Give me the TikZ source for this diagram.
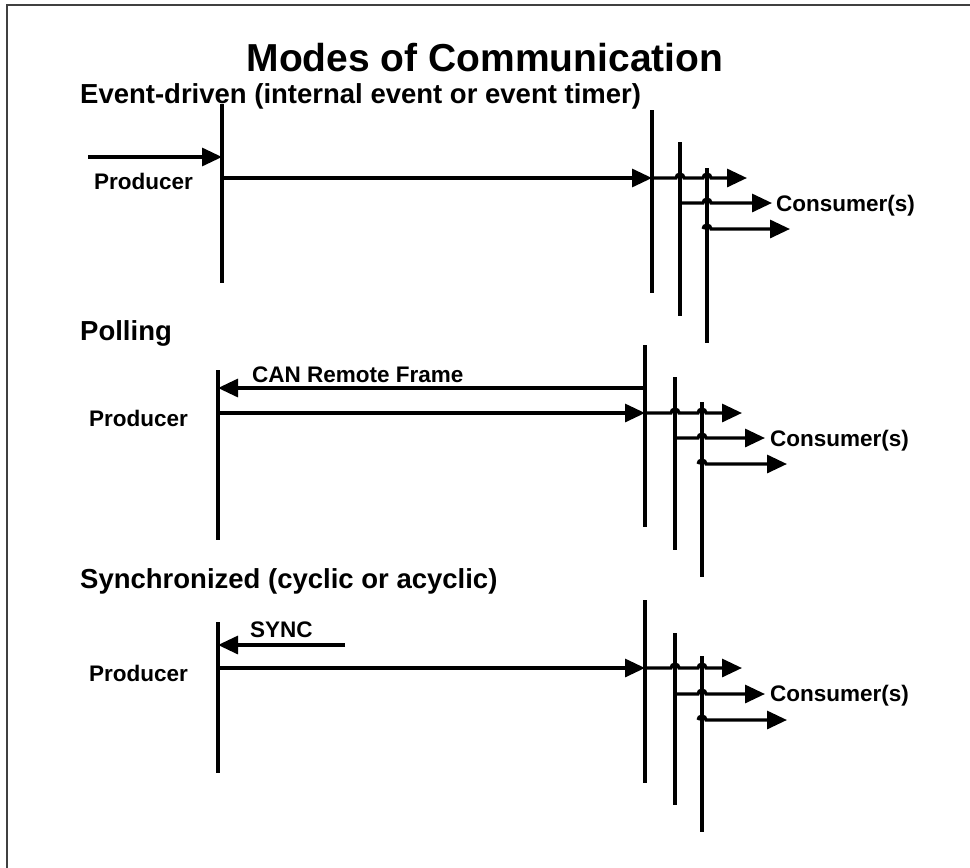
\documentclass[tikz,border=0pt]{standalone}
\usepackage{fontspec}
\setmainfont{Liberation Sans}
\usetikzlibrary{arrows.meta,calc}

\tikzset{
  lifeline/.style={line width=3.2pt},
  msg/.style={line width=3.2pt,-{Triangle[length=20pt,width=18pt]}},
  maintitle/.style={font=\fontsize{39}{46}\selectfont\bfseries,inner sep=0pt,anchor=base},
  heading/.style={font=\fontsize{27.5}{33}\selectfont\bfseries,inner sep=0pt,anchor=base west},
  tag/.style={font=\fontsize{22.5}{27}\selectfont\bfseries,inner sep=0pt,anchor=base west},
}

\begin{document}
\begin{tikzpicture}[x=1pt,y=-1pt]
    \useasboundingbox (0,0) rectangle (970,868);
    % frame, only top and left edges are visible
    \draw[line width=2pt,black!75] (970,5) -- (7,5) -- (7,868);

    \node (title) [maintitle] at (485,71) {Modes of Communication};

    % Event-driven
    \node (head_event) [heading] at (80,103) {Event-driven (internal event or event timer)};
    \coordinate (prod1_top) at (222,104);
    \coordinate (prod1_bot) at (222,283);
    \coordinate (trigger1) at (88,157);
    \coordinate (send1) at (222,178);
    \node (producer1) [tag] at (94,189) {Producer};
    \coordinate (cons1_1_top) at (652,110);
    \coordinate (cons1_1_bot) at (652,293);
    \coordinate (cons1_2_top) at (680,142);
    \coordinate (cons1_2_bot) at (680,316);
    \coordinate (cons1_3_top) at (707,168);
    \coordinate (cons1_3_bot) at (707,343);
    \coordinate (out1_1) at (747,178);
    \coordinate (out1_2) at (772,203);
    \coordinate (out1_3) at (790,229);
    \node (consumer1) [tag] at (776,211) {Consumer(s)};

    \draw[lifeline] (prod1_top) -- (prod1_bot);
    \draw[lifeline] (cons1_1_top) -- (cons1_1_bot);
    \draw[lifeline] (cons1_2_top) -- (cons1_2_bot);
    \draw[lifeline] (cons1_3_top) -- (cons1_3_bot);
    \draw[msg] (trigger1) -- (trigger1 -| prod1_top);
    \draw[msg] (send1) -- (send1 -| cons1_1_top);
    \draw[msg] (out1_1 -| cons1_1_top) -- ($(out1_1 -| cons1_2_top)+(-4,0)$) arc (180:360:4)
        -- ($(out1_1 -| cons1_3_top)+(-4,0)$) arc (180:360:4) -- (out1_1);
    \draw[msg] (out1_2 -| cons1_2_top) -- ($(out1_2 -| cons1_3_top)+(-4,0)$) arc (180:360:4) -- (out1_2);
    \draw[msg] ($(out1_3 -| cons1_3_top)+(-4,0)$) arc (180:360:4) -- (out1_3);

    % Polling
    \node (head_poll) [heading] at (80,340) {Polling};
    \coordinate (prod2_top) at (218,370);
    \coordinate (prod2_bot) at (218,540);
    \coordinate (poll2) at (645,388);
    \coordinate (send2) at (218,413);
    \node (producer2) [tag] at (89,426) {Producer};
    \node (l_remote) [tag] at (252,382) {CAN Remote Frame};
    \coordinate (cons2_1_top) at (645,345);
    \coordinate (cons2_1_bot) at (645,527);
    \coordinate (cons2_2_top) at (675,377);
    \coordinate (cons2_2_bot) at (675,550);
    \coordinate (cons2_3_top) at (702,402);
    \coordinate (cons2_3_bot) at (702,577);
    \coordinate (out2_1) at (742,413);
    \coordinate (out2_2) at (765,438);
    \coordinate (out2_3) at (787,464);
    \node (consumer2) [tag] at (770,446) {Consumer(s)};

    \draw[lifeline] (prod2_top) -- (prod2_bot);
    \draw[lifeline] (cons2_1_top) -- (cons2_1_bot);
    \draw[lifeline] (cons2_2_top) -- (cons2_2_bot);
    \draw[lifeline] (cons2_3_top) -- (cons2_3_bot);
    \draw[msg] (poll2) -- (poll2 -| prod2_top);
    \draw[msg] (send2) -- (send2 -| cons2_1_top);
    \draw[msg] (out2_1 -| cons2_1_top) -- ($(out2_1 -| cons2_2_top)+(-4,0)$) arc (180:360:4)
        -- ($(out2_1 -| cons2_3_top)+(-4,0)$) arc (180:360:4) -- (out2_1);
    \draw[msg] (out2_2 -| cons2_2_top) -- ($(out2_2 -| cons2_3_top)+(-4,0)$) arc (180:360:4) -- (out2_2);
    \draw[msg] ($(out2_3 -| cons2_3_top)+(-4,0)$) arc (180:360:4) -- (out2_3);

    % Synchronized
    \node (head_sync) [heading] at (80,588) {Synchronized (cyclic or acyclic)};
    \coordinate (prod3_top) at (218,622);
    \coordinate (prod3_bot) at (218,773);
    \coordinate (sync3) at (345,645);
    \coordinate (send3) at (218,668);
    \node (producer3) [tag] at (89,681) {Producer};
    \node (l_sync) [tag] at (250,637) {SYNC};
    \coordinate (cons3_1_top) at (645,600);
    \coordinate (cons3_1_bot) at (645,783);
    \coordinate (cons3_2_top) at (675,633);
    \coordinate (cons3_2_bot) at (675,805);
    \coordinate (cons3_3_top) at (702,656);
    \coordinate (cons3_3_bot) at (702,832);
    \coordinate (out3_1) at (742,668);
    \coordinate (out3_2) at (765,694);
    \coordinate (out3_3) at (787,720);
    \node (consumer3) [tag] at (770,701) {Consumer(s)};

    \draw[lifeline] (prod3_top) -- (prod3_bot);
    \draw[lifeline] (cons3_1_top) -- (cons3_1_bot);
    \draw[lifeline] (cons3_2_top) -- (cons3_2_bot);
    \draw[lifeline] (cons3_3_top) -- (cons3_3_bot);
    \draw[msg] (sync3) -- (sync3 -| prod3_top);
    \draw[msg] (send3) -- (send3 -| cons3_1_top);
    \draw[msg] (out3_1 -| cons3_1_top) -- ($(out3_1 -| cons3_2_top)+(-4,0)$) arc (180:360:4)
        -- ($(out3_1 -| cons3_3_top)+(-4,0)$) arc (180:360:4) -- (out3_1);
    \draw[msg] (out3_2 -| cons3_2_top) -- ($(out3_2 -| cons3_3_top)+(-4,0)$) arc (180:360:4) -- (out3_2);
    \draw[msg] ($(out3_3 -| cons3_3_top)+(-4,0)$) arc (180:360:4) -- (out3_3);
\end{tikzpicture}
\end{document}
